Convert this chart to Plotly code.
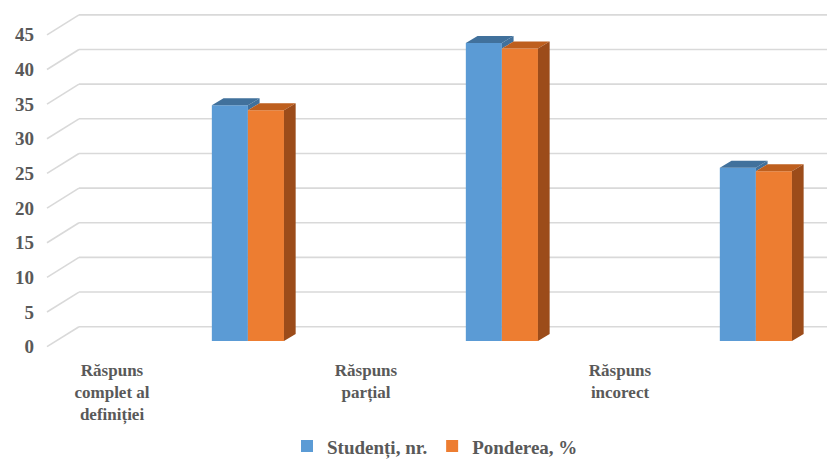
import plotly.graph_objects as go

# ---- data ----
categories = ["Răspuns<br>complet al<br>definiției", "Răspuns<br>parțial", "Răspuns<br>incorect"]
series_names = ["Studenți, nr.", "Ponderea, %"]
studenti = [34, 43, 25]
ponderea = [33.3, 42.2, 24.5]
y_ticks = [0, 5, 10, 15, 20, 25, 30, 35, 40, 45]

# ---- style constants ----
BLUE, BLUE_TOP = "#5B9BD5", "#41719C"
ORANGE, ORANGE_TOP, ORANGE_SIDE = "#ED7D31", "#BE5F1E", "#9C4C1A"
GRID = "#D9D9D9"
TXT = "#595959"
FONT = "Liberation Serif"
W = 0.142          # bar width (x units)
DX, DY = 0.046, 1.02   # 3D depth offset of bar faces
BACK_SHIFT = 2.06  # back-wall gridline offset (y units)
FRONT_SHIFT = -0.82  # front tick offset (y units)
LABEL_SHIFT = -0.535
Y_RANGE = [-1.30, 47.76]
X_RANGE = [-0.791, 2.280]
WALL_X = 0.041     # paper fraction where back wall starts


def bold(s):
    return "<br>".join("<b>%s</b>" % part for part in str(s).split("<br>"))


idx = list(range(len(categories)))

fig = go.Figure()
fig.add_trace(go.Bar(x=idx, y=studenti, width=W, offset=-W, name=bold(series_names[0]),
                     marker=dict(color=BLUE, line=dict(width=0))))
fig.add_trace(go.Bar(x=idx, y=ponderea, width=W, offset=0, name=bold(series_names[1]),
                     marker=dict(color=ORANGE, line=dict(width=0))))


def poly_trace(polys, color):
    xs, ys = [], []
    for p in polys:
        for (a, b) in p + [p[0]]:
            xs.append(a)
            ys.append(b)
        xs.append(None)
        ys.append(None)
    return go.Scatter(x=xs, y=ys, mode="lines", fill="toself", fillcolor=color,
                      line=dict(width=0, color=color), hoverinfo="skip", showlegend=False)


blue_top, blue_side, or_top, or_side = [], [], [], []
for i, vb, vo in zip(idx, studenti, ponderea):
    x0, x1, x2 = i - W, i, i + W
    blue_top.append([(x0, vb), (x1, vb), (x1 + DX, vb + DY), (x0 + DX, vb + DY)])
    if vb > vo:
        blue_side.append([(x1, vo), (x1, vb), (x1 + DX, vb + DY), (x1 + DX, vo + DY)])
    or_top.append([(x1, vo), (x2, vo), (x2 + DX, vo + DY), (x1 + DX, vo + DY)])
    or_side.append([(x2, 0), (x2 + DX, DY), (x2 + DX, vo + DY), (x2, vo)])

fig.add_trace(poly_trace(blue_top, BLUE_TOP))
fig.add_trace(poly_trace(blue_side, BLUE_TOP))
fig.add_trace(poly_trace(or_top, ORANGE_TOP))
fig.add_trace(poly_trace(or_side, ORANGE_SIDE))

# invisible trace to carry the tick-label axis
fig.add_trace(go.Scatter(x=[None], y=[None], yaxis="y2", showlegend=False, hoverinfo="skip"))

shapes = []
for k in y_ticks:
    shapes.append(dict(type="line", xref="paper", yref="y", x0=WALL_X, x1=1,
                       y0=k + BACK_SHIFT, y1=k + BACK_SHIFT, line=dict(color=GRID, width=1.6),
                       layer="below"))
    shapes.append(dict(type="line", xref="paper", yref="y", x0=0, x1=WALL_X,
                       y0=k + FRONT_SHIFT, y1=k + BACK_SHIFT, line=dict(color=GRID, width=1.6),
                       layer="below"))

y_font = dict(family=FONT, size=19, color=TXT)
x_font = dict(family=FONT, size=17, color=TXT)

fig.update_layout(
    width=827, height=461,
    margin=dict(l=47, r=0, t=10, b=111),
    paper_bgcolor="white", plot_bgcolor="white",
    barmode="overlay",
    shapes=shapes,
    xaxis=dict(range=X_RANGE, tickvals=[i + LABEL_SHIFT for i in idx],
               ticktext=[bold(c) for c in categories],
               showgrid=False, zeroline=False, showline=False, ticks="",
               tickfont=x_font, ticklabelstandoff=8),
    yaxis=dict(range=Y_RANGE, showgrid=False, zeroline=False, showline=False,
               showticklabels=False, ticks=""),
    yaxis2=dict(range=[Y_RANGE[0] - FRONT_SHIFT, Y_RANGE[1] - FRONT_SHIFT], overlaying="y",
                side="left", tickvals=y_ticks, ticktext=[bold(v) for v in y_ticks],
                showgrid=False, zeroline=False, showline=False,
                ticks="", tickfont=y_font, ticklabelstandoff=12),
    legend=dict(orientation="h", xref="container", yref="container", x=0.526, y=0.032,
                xanchor="center", yanchor="middle", font=dict(family=FONT, size=19, color=TXT),
                itemwidth=30),
    showlegend=True,
)

fig.write_html("out.html")
